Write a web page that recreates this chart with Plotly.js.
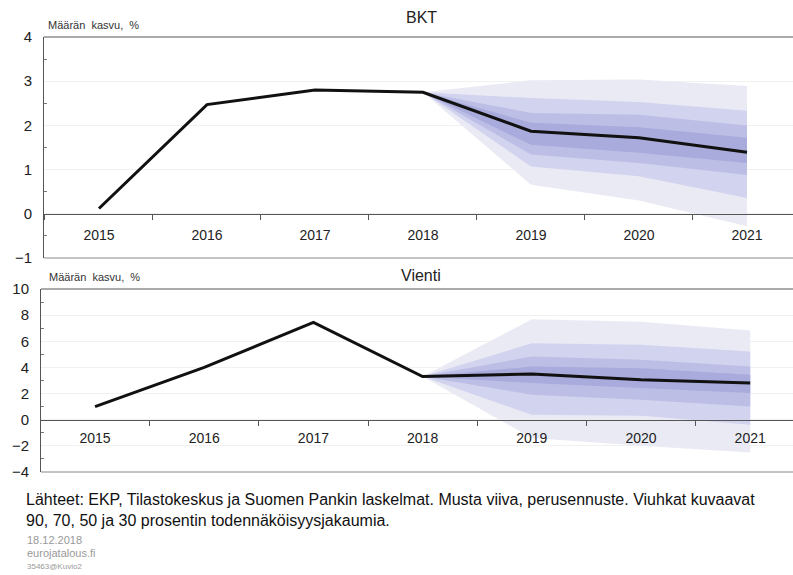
<!DOCTYPE html>
<html><head><meta charset="utf-8">
<script src="https://cdn.plot.ly/plotly-3.0.1.min.js"></script>
<style>body{margin:0;background:#fff}#c{width:793px;height:575px}</style>
</head><body><div id="c"></div>
<script>
const years = [2015, 2016, 2017, 2018, 2019, 2020, 2021];
const fanYears = [2018, 2019, 2020, 2021];
const yearLabels = ["2015", "2016", "2017", "2018", "2019", "2020", "2021"];

// BKT (GDP) baseline and fan bands
const bktLine = [0.12, 2.47, 2.80, 2.75, 1.87, 1.72, 1.39];
const bktUp90 = [2.75, 3.02, 3.04, 2.89];
const bktLo90 = [2.75, 0.66, 0.30, -0.28];
const bktUp70 = [2.75, 2.62, 2.53, 2.33];
const bktLo70 = [2.75, 1.07, 0.85, 0.36];
const bktUp50 = [2.75, 2.28, 2.24, 2.00];
const bktLo50 = [2.75, 1.34, 1.15, 0.88];
const bktUp30 = [2.75, 2.06, 1.96, 1.72];
const bktLo30 = [2.75, 1.56, 1.38, 1.15];

// Vienti (exports) baseline and fan bands
const vieLine = [1.0, 4.0, 7.45, 3.3, 3.5, 3.05, 2.8];
const vieUp90 = [3.3, 7.69, 7.50, 6.82];
const vieLo90 = [3.3, -1.40, -2.00, -2.50];
const vieUp70 = [3.3, 5.85, 5.73, 5.22];
const vieLo70 = [3.3, 0.38, 0.30, -0.38];
const vieUp50 = [3.3, 4.84, 4.58, 4.07];
const vieLo50 = [3.3, 1.91, 1.53, 1.02];
const vieUp30 = [3.3, 4.07, 3.94, 3.44];
const vieLo30 = [3.3, 2.80, 2.42, 2.04];

const bandColors = ["#eaeaf5", "#d2d3ee", "#bcbee5", "#a8abdb"];
const W = 793, H = 575;
const px = v => v / W, py = v => 1 - v / H;

function band(up, lo, color, xa, ya) {
  return {
    x: fanYears.concat(fanYears.slice().reverse()),
    y: up.concat(lo.slice().reverse()),
    xaxis: xa, yaxis: ya, type: "scatter", mode: "lines",
    fill: "toself", fillcolor: color, line: {width: 0}, hoverinfo: "skip", showlegend: false
  };
}
function line(vals, xa, ya) {
  return {x: years, y: vals, xaxis: xa, yaxis: ya, type: "scatter", mode: "lines",
    line: {color: "#111", width: 3}, showlegend: false};
}

const traces = [
  band(bktUp90, bktLo90, bandColors[0], "x", "y"),
  band(bktUp70, bktLo70, bandColors[1], "x", "y"),
  band(bktUp50, bktLo50, bandColors[2], "x", "y"),
  band(bktUp30, bktLo30, bandColors[3], "x", "y"),
  line(bktLine, "x", "y"),
  band(vieUp90, vieLo90, bandColors[0], "x2", "y2"),
  band(vieUp70, vieLo70, bandColors[1], "x2", "y2"),
  band(vieUp50, vieLo50, bandColors[2], "x2", "y2"),
  band(vieUp30, vieLo30, bandColors[3], "x2", "y2"),
  line(vieLine, "x2", "y2")
];

const F = "Liberation Sans, Arial, sans-serif";
const tickFont = {family: F, size: 14, color: "#222"};
function xax(left, range, zeroPx, standoff) {
  return {domain: [px(left), 1], range: range, anchor: "free", position: py(zeroPx),
    showline: true, linecolor: "#555", linewidth: 1, showgrid: false, zeroline: false,
    tickmode: "array", tickvals: years, ticktext: yearLabels, ticks: "",
    ticklabelstandoff: standoff, tickfont: tickFont,
    minor: {ticks: "outside", tick0: 2014.5, dtick: 1, ticklen: 5, tickcolor: "#555", showgrid: false}};
}
function yax(top, bottom, range, dtick, xa) {
  return {domain: [py(bottom), py(top)], range: range, anchor: xa,
    showline: true, linecolor: "#555", linewidth: 1, zeroline: false,
    showgrid: true, gridcolor: "#f1f1f1", dtick: dtick, tick0: 0, ticks: "",
    tickfont: {family: F, size: 15, color: "#222"}, ticklabelstandoff: 8,
    minor: {ticks: "inside", tick0: dtick / 2, dtick: dtick, ticklen: 3, tickcolor: "#777", showgrid: false}};
}

function note(text, x, y, size, color, extra) {
  return Object.assign({text: text, xref: "paper", yref: "paper", x: px(x), y: py(y),
    xanchor: "left", yanchor: "middle", align: "left", showarrow: false,
    font: {family: F, size: size, color: color}}, extra || {});
}

const layout = {
  width: W, height: H, margin: {l: 0, r: 0, t: 0, b: 0},
  paper_bgcolor: "#fff", plot_bgcolor: "rgba(0,0,0,0)", showlegend: false,
  xaxis: xax(44, [2014.491, 2021.426], 214, 8),
  yaxis: yax(37, 258, [-1, 4], 1, "x"),
  xaxis2: xax(41, [2014.505, 2021.392], 420, 5),
  yaxis2: yax(289, 472, [-4, 10], 2, "x2"),
  shapes: [
    {type: "line", xref: "paper", yref: "paper", x0: px(44), x1: 1, y0: py(37), y1: py(37), line: {color: "#aaa", width: 2}},
    {type: "line", xref: "paper", yref: "paper", x0: px(44), x1: 1, y0: py(258), y1: py(258), line: {color: "#888", width: 1}},
    {type: "line", xref: "paper", yref: "paper", x0: px(41), x1: 1, y0: py(289), y1: py(289), line: {color: "#aaa", width: 2}},
    {type: "line", xref: "paper", yref: "paper", x0: px(41), x1: 1, y0: py(472), y1: py(472), line: {color: "#888", width: 1}}
  ],
  annotations: [
    note("BKT", 421, 17, 16, "#222", {xanchor: "center"}),
    note("Vienti", 421, 275, 16, "#222", {xanchor: "center"}),
    note("Määrän\u00a0 kasvu,\u00a0 %", 46, 25, 11, "#333"),
    note("Määrän\u00a0 kasvu,\u00a0 %", 47, 277, 11, "#333"),
    note("Lähteet: EKP, Tilastokeskus ja Suomen Pankin laskelmat. Musta viiva, perusennuste. Viuhkat kuvaavat<br>90, 70, 50 ja 30 prosentin todennäköisyysjakaumia.", 24, 510, 16, "#111"),
    note("18.12.2018", 25, 540, 11, "#999"),
    note("eurojatalous.fi", 25, 553, 11, "#999"),
    note("35463@Kuvio2", 25, 566, 8, "#999")
  ]
};
Plotly.newPlot("c", traces, layout, {staticPlot: true, displayModeBar: false});
</script></body></html>
